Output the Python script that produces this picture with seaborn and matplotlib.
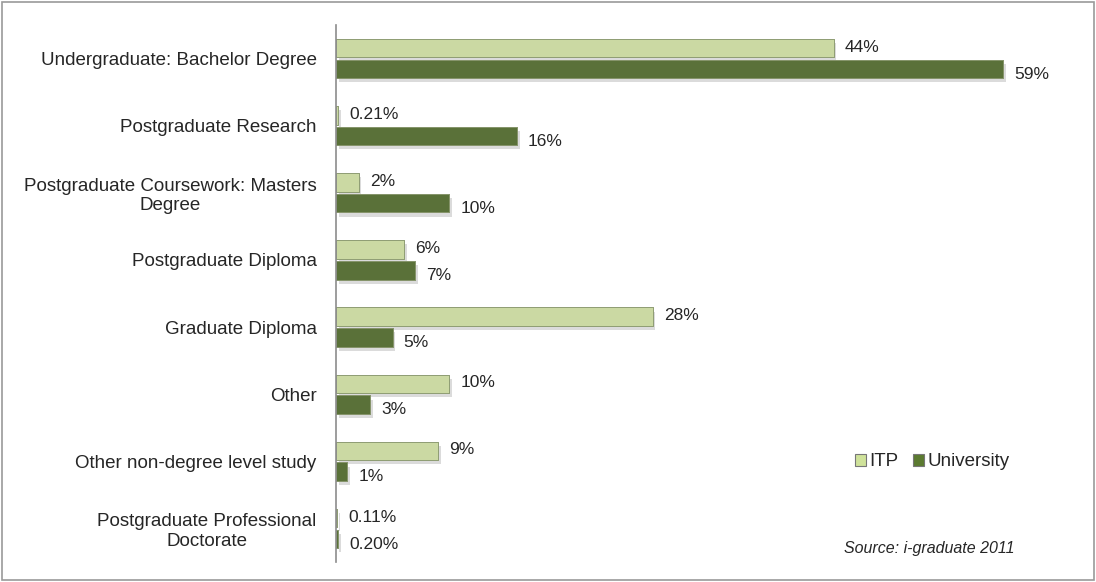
import pandas as pd
import seaborn as sns
import matplotlib.pyplot as plt
import matplotlib.patheffects as pe
from matplotlib.patches import Rectangle

# data
categories = ["Undergraduate: Bachelor Degree", "Postgraduate Research",
              "Postgraduate Coursework: Masters\nDegree", "Postgraduate Diploma",
              "Graduate Diploma", "Other", "Other non-degree level study",
              "Postgraduate Professional\nDoctorate"]
itp = [44, 0.21, 2, 6, 28, 10, 9, 0.11]
university = [59, 16, 10, 7, 5, 3, 1, 0.20]
itp_labels = ["44%", "0.21%", "2%", "6%", "28%", "10%", "9%", "0.11%"]
uni_labels = ["59%", "16%", "10%", "7%", "5%", "3%", "1%", "0.20%"]

df = pd.DataFrame({
    "Category": categories * 2,
    "Value": itp + university,
    "Type": ["ITP"] * len(categories) + ["University"] * len(categories),
})

sns.set_style("white")
plt.rcParams["font.family"] = ["Liberation Sans", "DejaVu Sans"]

fig = plt.figure(figsize=(10.96, 5.82), dpi=100)
ax = fig.add_axes([336 / 1096, 1 - 562 / 582, (1086 - 336) / 1096, (562 - 25) / 582])

colors = {"ITP": "#cfe29a", "University": "#5b7a30"}
sns.barplot(data=df, y="Category", x="Value", hue="Type", orient="h",
            palette=colors, width=0.62, ax=ax, edgecolor="#8a9870", linewidth=0.6)

# leave a small gap between paired bars and add a soft drop shadow
for p in ax.patches:
    if p.get_height() > 0:
        c = p.get_y() + p.get_height() / 2
        h = p.get_height() - 0.035
        p.set_y(c - h / 2)
        p.set_height(h)
        p.set_path_effects([pe.withSimplePatchShadow(offset=(2, -3), shadow_rgbFace="#999999", alpha=0.35),
                            pe.Normal()])

ax.set_xlim(0, (1086 - 336) / 11.31)
ax.set_xlabel("")
ax.set_ylabel("")
ax.set_xticks([])
ax.tick_params(axis="y", length=0, pad=14)
for lbl in ax.get_yticklabels():
    lbl.set_fontsize(13.5)
    lbl.set_multialignment("center")
for s in ["top", "right", "bottom"]:
    ax.spines[s].set_visible(False)
ax.spines["left"].set_color("#8c8c8c")
ax.spines["left"].set_linewidth(1.2)

# value labels
for i in range(len(categories)):
    ax.annotate(itp_labels[i], (itp[i], i - 0.17), xytext=(8, 0), textcoords="offset points",
                va="center", ha="left", fontsize=12.5)
    ax.annotate(uni_labels[i], (university[i], i + 0.17), xytext=(8, -3), textcoords="offset points",
                va="center", ha="left", fontsize=12.5)

# legend
handles = [Rectangle((0, 0), 1, 1, facecolor=colors["ITP"], edgecolor="#777777", linewidth=0.8),
           Rectangle((0, 0), 1, 1, facecolor=colors["University"], edgecolor="#777777", linewidth=0.8)]
ax.legend(handles, ["ITP", "University"], ncol=2, frameon=False, fontsize=13.5,
          handlelength=0.6, handleheight=0.6, handletextpad=0.15, columnspacing=0.8,
          loc="center left", bbox_to_anchor=(838 / 1096, 1 - 462 / 582), bbox_transform=fig.transFigure)

fig.text(1015 / 1096, 1 - 549 / 582, "Source: i-graduate 2011", ha="right", va="center",
         fontsize=11.5, style="italic")

# outer frame
fig.patches.append(Rectangle((0.002, 0.003), 0.996, 0.994, transform=fig.transFigure,
                             fill=False, edgecolor="#9a9a9a", linewidth=1.2))

fig.savefig("out.png", dpi=100)
